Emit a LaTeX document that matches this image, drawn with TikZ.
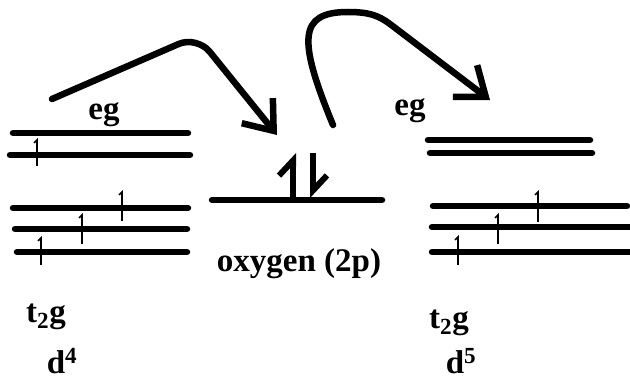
\documentclass[tikz,border=0pt]{standalone}
\usepackage{fontspec}
\setmainfont{Liberation Serif}
\usetikzlibrary{arrows.meta}
\tikzset{
	orbline/.style={line width=6.5pt, line cap=round},
	spinarr/.style={line width=1.6pt, -{Straight Barb[left,length=3pt,width=6pt]}},
	pairarr/.style={line width=6pt, -{Straight Barb[left,length=15pt,width=28pt]}},
	hoparr/.style={line width=6.5pt, line cap=round, -{Straight Barb[length=26pt,width=40pt]}},
	lbl/.style={font=\bfseries\fontsize{33}{33}\selectfont, inner sep=0pt, anchor=base}
}

\begin{document}
\begin{tikzpicture}[x=1pt,y=-1pt]
	\useasboundingbox (0,0) rectangle (630,380);
	% d4 ion (left)
	\draw[orbline] (13,133) -- (188,133);
	\draw[orbline] (10,155) -- (190,155);
	\draw[orbline] (13,208) -- (188,208);
	\draw[orbline] (15,229) -- (187,229);
	\draw[orbline] (17,252) -- (187,252);
	\draw[spinarr] (37,166) -- (37,138);
	\draw[spinarr] (122,221) -- (122,190);
	\draw[spinarr] (82,244) -- (82,213);
	\draw[spinarr] (41,265) -- (41,236);
	% oxygen 2p
	\draw[orbline] (212,200) -- (382,200);
	\draw[pairarr] (293,200) -- (293,153);
	\draw[pairarr] (313,153) -- (313,198);
	% d5 ion (right)
	\draw[orbline] (428,140) -- (590,140);
	\draw[orbline] (430,153) -- (592,153);
	\draw[orbline] (433,206) -- (627,206);
	\draw[orbline] (432,227) -- (630,227);
	\draw[orbline] (432,252) -- (630,252);
	\draw[spinarr] (538,222) -- (538,190);
	\draw[spinarr] (498,244) -- (498,213);
	\draw[spinarr] (458,265) -- (458,235);
	% labels
	\node[lbl] (egL) at (104,119) {eg};
	\node[lbl] (egR) at (410,115) {eg};
	\node[lbl] (oxy) at (299,271) {oxygen (2p)};
	\node[lbl] (t2gL) at (46,322) {t\textsubscript{2}g};
	\node[lbl] (t2gR) at (449,328) {t\textsubscript{2}g};
	\node[lbl] (d4) at (62,373) {d\textsuperscript{4}};
	\node[lbl] (d5) at (461,373) {d\textsuperscript{5}};
	% electron hops
	\coordinate (hopAs) at (52,99);
	\coordinate (hopAe) at (277,135);
	\coordinate (hopBs) at (333,125);
	\coordinate (hopBe) at (490,100);
	\draw[hoparr, rounded corners=20pt] (hopAs) -- (197,36) -- (hopAe);
	\draw[hoparr] (hopBs) .. controls (298,40) and (298,12) .. (348,12)
		.. controls (368,12) and (378,15) .. (390,24) -- (hopBe);
\end{tikzpicture}
\end{document}
